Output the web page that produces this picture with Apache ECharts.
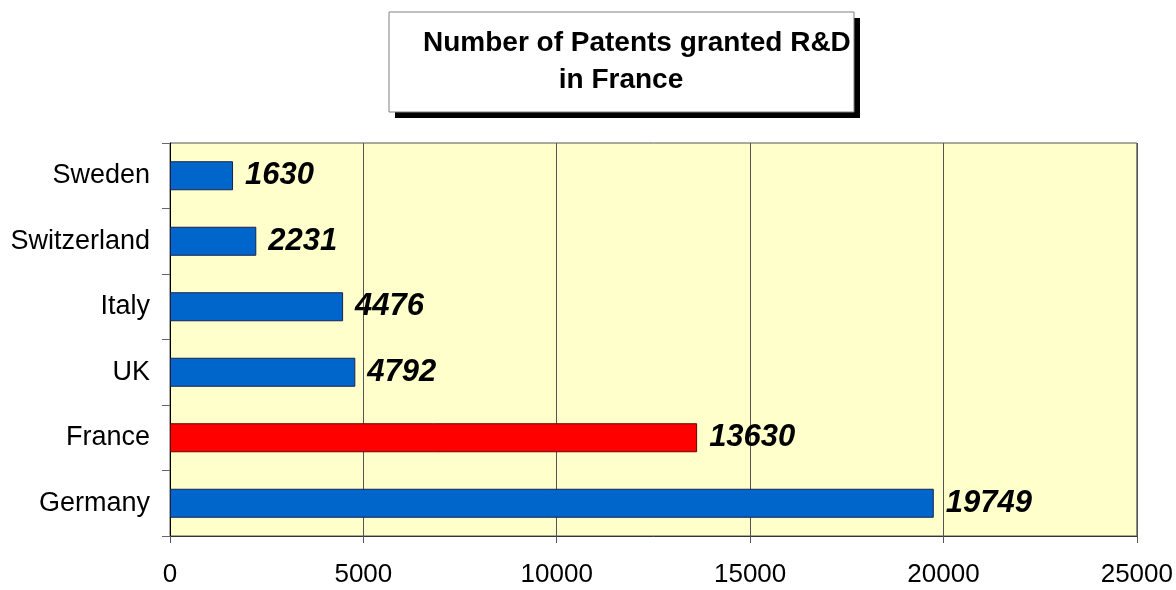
<!DOCTYPE html>
<html>
<head>
<meta charset="utf-8">
<title>Number of Patents granted R&amp;D in France</title>
<script src="https://cdn.jsdelivr.net/npm/echarts@6/dist/echarts.min.js"></script>
<style>
    html, body { margin: 0; padding: 0; background: #fff; }
    #patents { width: 1176px; height: 590px; }
</style>
</head>
<body>
<div id="patents"></div>
<script>
// data
var countries = ['Sweden', 'Switzerland', 'Italy', 'UK', 'France', 'Germany'];
var patents = [1630, 2231, 4476, 4792, 13630, 19749];
var highlight = 'France';
var xTicks = [0, 5000, 10000, 15000, 20000, 25000];

var myPatents = echarts.init(document.getElementById('patents'));

var barData = [];
for (var i = 0; i < countries.length; i++) {
    var isHi = countries[i] === highlight;
    barData.push({
        value: patents[i],
        itemStyle: {
            color: isHi ? '#ff0000' : '#0066cc',
            borderColor: isHi ? '#660000' : '#1a2050'
        }
    });
}

var titleFont = {
    color: '#000',
    fontSize: 28,
    fontWeight: 'bold',
    fontFamily: 'Liberation Sans, Arial, sans-serif'
};

var patentsOption = {
    animation: false,
    textStyle: { fontFamily: 'Liberation Sans, Arial, sans-serif' },
    // the first line runs right up to the box edge, as in the original
    title: [
        {
            text: 'Number of Patents granted R&D',
            left: 423,
            top: 29,
            padding: 0,
            textStyle: titleFont
        },
        {
            text: 'in France',
            left: 621,
            top: 66,
            padding: 0,
            textAlign: 'center',
            textStyle: titleFont
        }
    ],
    // boxed title with a hard black shadow
    graphic: [
        {
            type: 'rect',
            z: 0,
            shape: { x: 395, y: 18, width: 465, height: 100 },
            style: { fill: '#000' }
        },
        {
            type: 'rect',
            z: 1,
            shape: { x: 389, y: 12, width: 465, height: 100 },
            style: { fill: '#fff', stroke: '#808080', lineWidth: 1 }
        }
    ],
    grid: {
        left: 170,
        right: 39,
        top: 143,
        bottom: 54,
        show: true,
        backgroundColor: '#ffffcc',
        borderColor: '#555',
        borderWidth: 1
    },
    xAxis: {
        type: 'value',
        min: xTicks[0],
        max: xTicks[xTicks.length - 1],
        interval: xTicks[1] - xTicks[0],
        axisLine: { show: true, lineStyle: { color: '#333', width: 1 } },
        axisTick: { show: true, length: 7, lineStyle: { color: '#555' } },
        axisLabel: {
            margin: 26,
            color: '#000',
            fontSize: 26,
            formatter: function (v) { return String(v); }
        },
        splitLine: { show: true, lineStyle: { color: '#555', width: 1 } }
    },
    yAxis: {
        type: 'category',
        inverse: true,
        data: countries,
        axisLine: { show: true, lineStyle: { color: '#000', width: 1 } },
        axisTick: { show: true, length: 8, lineStyle: { color: '#666' } },
        axisLabel: {
            margin: 20,
            color: '#000',
            fontSize: 27
        },
        splitLine: { show: false }
    },
    series: [
        {
            type: 'bar',
            barWidth: 29,
            data: barData,
            itemStyle: { borderWidth: 1 },
            label: {
                show: true,
                position: 'right',
                distance: 12,
                color: '#000',
                fontSize: 31,
                fontWeight: 'bold',
                fontStyle: 'italic'
            }
        }
    ]
};
myPatents.setOption(patentsOption);

window.addEventListener('resize', function () {
    myPatents.resize();
});
</script>
</body>
</html>
